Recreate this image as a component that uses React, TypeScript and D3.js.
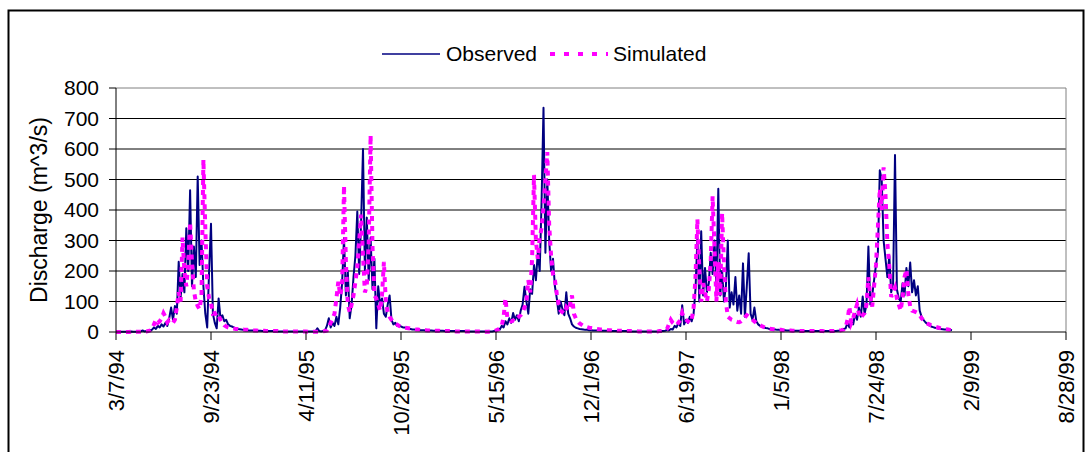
import React from 'react'
import * as d3 from 'd3'

// daily discharge, every 4 days starting 3/7/94
const startDate = '1994-03-07'
const stepDays = 4

const tickDates = [
  '1994-03-07', '1994-09-23', '1995-04-11', '1995-10-28', '1996-05-15', '1996-12-01',
  '1997-06-19', '1998-01-05', '1998-07-24', '1999-02-09', '1999-08-28',
]
const yTicks = [0, 100, 200, 300, 400, 500, 600, 700, 800]

const observed = [
  // 1994
  1, 1, 1, 1, 1, 1, 1, 1, 2, 1, 1, 1, 1, 2, 5, 2, 3, 3,
  5, 8, 15, 10, 20, 15, 25, 18, 30, 20, 45, 80,
  40, 85, 60, 230, 110, 190, 130, 340, 200, 465, 150, 280, 180, 510, 220, 300, 150, 60,
  15, 200, 355, 60, 30, 12, 110, 45, 55, 35, 40, 25, 20, 18, 15, 12, 10, 9,
  8, 7, 6, 6, 5, 5, 5, 4, 4, 4, 4, 3, 3, 3, 3, 3, 3, 3, 3, 2, 2, 2, 2, 2, 2, 2, 2, 2, 2, 2, 2, 2, 2, 2,
  // 1995
  2, 2, 2, 2, 2, 2,
  12, 3, 2, 3, 5, 20, 45, 15, 30, 20, 50, 25,
  80, 160, 308, 120, 200, 45, 90, 180, 250, 395, 190, 360, 600, 200, 375, 170, 310, 140,
  240, 12, 150, 90, 110, 60, 50, 90, 120, 40, 25,
  30, 20, 22, 18, 15, 15, 12, 10, 10, 8, 8, 7, 7, 6, 6, 6, 5, 5, 5, 5,
  4, 4, 4, 4, 4, 4, 3, 3, 3, 3, 3, 3, 3, 3, 3, 3, 3, 3, 2, 2,
  2, 2, 2, 2, 2, 2, 2, 2, 2, 2, 2,
  // 1996
  2, 3, 5, 10, 8, 20, 15, 35, 25, 45, 30, 62, 40, 55, 35, 70,
  90, 148, 100, 60, 140, 125, 220, 170, 260, 200, 430, 735, 260, 500, 300, 200, 240, 150,
  110, 60, 100, 75, 55, 130, 60, 45, 25, 18, 14, 12, 10, 9, 8,
  7, 7, 6, 6, 5, 5, 5, 5, 4, 4, 4, 4, 4, 3, 3, 3, 3, 3, 3, 3,
  3, 3, 3, 2, 2, 2, 2, 2, 2, 2, 2, 2, 2, 2, 2, 2, 2, 2, 2, 2, 3,
  // 1997
  3, 4, 6, 5, 10, 8, 20, 15, 30, 20, 88, 25, 40, 30, 50, 35, 60,
  140, 308, 100, 330, 120, 210, 130, 160, 260, 190, 300, 150, 470, 120, 200, 100, 150, 300,
  80, 130, 90, 180, 70, 120, 60, 225, 50, 150, 258, 60, 40, 80, 35, 25, 20, 18, 15, 13, 12, 10,
  9, 8, 8, 7, 7, 6, 6, 6, 5, 5, 5, 5, 4, 4, 4, 4, 4, 3, 3, 3,
  3, 3, 3, 3, 3, 3, 3, 3, 3, 3, 3, 3, 3,
  // 1998
  3, 3, 4, 5, 8, 10, 12, 30, 15, 40, 25, 60, 40, 80, 50, 116, 60, 90, 280, 90,
  120, 170, 220, 260, 530, 500, 300, 240, 180, 250, 130, 160, 580, 140, 110, 100, 160, 120, 210, 150,
  228, 130, 170, 120, 150, 70, 50, 40, 32, 26, 22, 18, 16, 14, 12, 11, 10, 9, 8, 8,
  7, 7, 6,
]

const simulated = [
  // 1994
  0, 0, 0, 0, 0, 0, 0, 0, 1, 1, 1, 1, 1, 1, 1, 2, 2, 3,
  5, 10, 25, 40, 30, 35, 45, 62, 50, 32, 40, 35,
  30, 40, 80, 130, 100, 310, 200, 150, 220, 360,
  230, 135, 100, 85, 75, 120, 565, 340, 150, 110,
  95, 60, 62, 50, 55, 40, 30, 22, 18, 15,
  13, 12, 11, 10, 10, 9,
  8, 8, 7, 7, 6, 6, 5, 5, 5, 4, 4, 4, 4, 3, 3, 3, 3, 3, 3, 3,
  2, 2, 2, 2, 2, 2, 2, 2, 2, 2, 2, 2, 2, 2, 2, 1, 1, 1, 1, 1,
  1, 1, 1, 2, 3,
  // 1995
  5, 15, 30, 45, 60, 110, 165, 120, 150, 480,
  230, 90, 65, 90, 120, 165, 210, 300, 385, 250,
  130, 150, 290, 645, 280, 120, 110, 90, 70, 120,
  230, 100, 65, 50, 40, 32, 28, 24, 20, 18,
  16, 14, 13, 12, 11, 10, 9, 8,
  8, 7, 7, 6, 6, 5, 5, 5, 4, 4, 4, 4, 3, 3, 3, 3, 3, 3, 3, 3,
  2, 2, 2, 2, 2, 2, 2, 2, 2, 2, 2,
  2, 2, 2, 2, 1, 1, 1, 2, 2, 3,
  // 1996
  5, 8, 12, 20, 50, 110, 45, 40, 35, 38,
  35, 45, 50, 55, 65, 80, 100, 170, 130, 240,
  515, 300, 240, 310, 340, 410, 500, 590, 350, 250,
  190, 170, 125, 90, 70, 65, 60, 80, 70, 90,
  120, 60, 45, 35, 28, 24, 20, 18, 16, 14,
  13, 12,
  11, 10, 9, 8, 8, 7, 7, 6, 6, 5, 5, 5, 4, 4, 4, 4, 3, 3, 3, 3,
  3, 3, 3, 2, 2, 2, 2, 2,
  2, 2, 2, 2, 2, 2, 3, 3, 4, 5,
  // 1997
  10, 25, 40, 30, 25, 22, 30, 40, 62, 45,
  40, 35, 30, 40, 80, 180, 370, 210, 100, 160,
  130, 100, 140, 230, 445, 275, 100, 230, 120, 390,
  220, 100, 50, 45, 40, 38, 35, 33, 32, 35,
  40, 48, 55, 50, 45, 40, 35, 30, 26, 22,
  19, 16, 14, 12, 11, 10,
  9, 8, 8, 7, 7, 6, 6, 5, 5, 5, 4, 4, 4, 4, 3, 3, 3, 3, 3, 3,
  3, 3, 3, 3,
  3, 3, 3, 2, 2, 2, 3, 3, 3, 4, 4, 5, 6, 8,
  // 1998
  15, 40, 83, 30, 45, 70, 90, 60, 45, 55,
  62, 90, 180, 115, 83, 150, 220, 345, 470, 400,
  540, 450, 290, 215, 115, 130, 145, 110, 90, 70,
  115, 180, 205, 125, 83, 70, 68, 65, 62, 55,
  45, 38, 32, 28, 25, 22, 20, 18, 16, 14,
  12, 11, 10, 9, 8, 7, 6,
]

const font = '"Liberation Sans", Arial, sans-serif'

export default function App() {
  const W = 1091
  const H = 452
  const left = 116
  const right = 1066
  const top = 88
  const bottom = 332

  const parse = d3.utcParse('%Y-%m-%d')
  const t0 = parse(startDate) as Date
  const ticks = tickDates.map(d => parse(d) as Date)
  const fmt = d3.utcFormat('%-m/%-d/%y')

  const x = d3.scaleUtc()
    .domain([ticks[0], ticks[ticks.length - 1]])
    .range([left, right])
  const y = d3.scaleLinear()
    .domain([0, 800])
    .range([bottom, top])

  const line = d3.line<number>()
    .x((d, i) => x(d3.utcDay.offset(t0, i * stepDays)))
    .y(d => y(d))

  return (
    <div style={{ position: 'absolute', left: 0, top: 0 }}>
      <svg width={W} height={H} style={{ display: 'block', background: '#fff' }} fontFamily={font}>
        {/* chart border */}
        <rect x={8.5} y={10.5} width={1075} height={460} fill="#fff" stroke="#000" strokeWidth={2} />

        {/* gridlines */}
        {yTicks.slice(1, -1).map(v => (
          <line key={v} x1={left} x2={right} y1={y(v)} y2={y(v)} stroke="#000" strokeWidth={1} />
        ))}
        <line x1={left} x2={right} y1={y(800)} y2={y(800)} stroke="#808080" strokeWidth={1} />
        <line x1={right} x2={right} y1={top} y2={bottom} stroke="#808080" strokeWidth={1} />

        {/* series */}
        <path d={line(observed) || ''} fill="none" stroke="#000080" strokeWidth={2} strokeLinejoin="round" />
        <path d={line(simulated) || ''} fill="none" stroke="#FF00FF" strokeWidth={4} strokeDasharray="5,5" />

        {/* y axis */}
        <line x1={left} x2={left} y1={top} y2={bottom} stroke="#000" strokeWidth={1} />
        {yTicks.map(v => (
          <g key={v}>
            <line x1={left - 7} x2={left} y1={y(v)} y2={y(v)} stroke="#000" />
            <text x={99} y={y(v)} dy="0.35em" textAnchor="end" fontSize={21}>{v}</text>
          </g>
        ))}
        <text transform={`translate(47,${(top + bottom) / 2}) rotate(-90)`} textAnchor="middle" fontSize={23}>
          Discharge (m^3/s)
        </text>

        {/* x axis */}
        <line x1={left} x2={right} y1={bottom} y2={bottom} stroke="#000" strokeWidth={1} />
        {ticks.map((t, i) => (
          <g key={i}>
            <line x1={x(t)} x2={x(t)} y1={bottom} y2={bottom + 8} stroke="#000" />
            <text transform={`translate(${x(t)},350) rotate(-90)`} dy="0.35em" textAnchor="end" fontSize={22}>
              {fmt(t)}
            </text>
          </g>
        ))}

        {/* legend */}
        <line x1={382} x2={440} y1={54} y2={54} stroke="#000080" strokeWidth={1.5} />
        <text x={446} y={54} dy="0.35em" fontSize={21}>Observed</text>
        <line x1={550} x2={608} y1={54} y2={54} stroke="#FF00FF" strokeWidth={4} strokeDasharray="5,9" />
        <text x={613} y={54} dy="0.35em" fontSize={21}>Simulated</text>
      </svg>
    </div>
  )
}
